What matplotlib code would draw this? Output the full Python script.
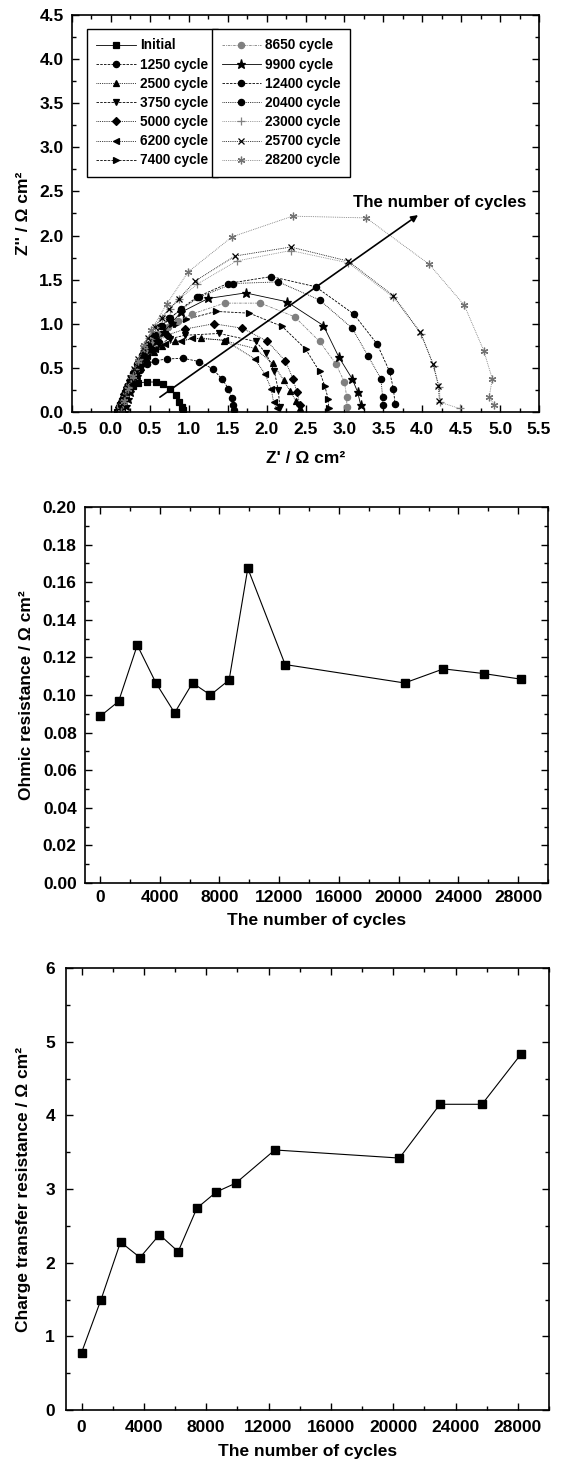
import matplotlib
matplotlib.use("Agg")
import matplotlib.pyplot as plt
from matplotlib.ticker import MultipleLocator, FormatStrFormatter

plt.rcParams['font.family'] = ['Liberation Sans', 'DejaVu Sans']
plt.rcParams['font.weight'] = 'bold'
plt.rcParams['axes.labelweight'] = 'bold'

# ---------------- Data ----------------
labels = ["Initial", "1250 cycle", "2500 cycle", "3750 cycle", "5000 cycle",
          "6200 cycle", "7400 cycle", "8650 cycle", "9900 cycle", "12400 cycle",
          "20400 cycle", "23000 cycle", "25700 cycle", "28200 cycle"]

zr_initial = [0.08, 0.10, 0.12, 0.14, 0.17, 0.20, 0.24, 0.29, 0.35, 0.46, 0.58, 0.67, 0.76, 0.83, 0.88, 0.91, 0.93]
zi_initial = [0.00, 0.04, 0.08, 0.12, 0.17, 0.21, 0.26, 0.30, 0.33, 0.34, 0.34, 0.32, 0.26, 0.19, 0.11, 0.06, 0.02]

zr_1250 = [0.09, 0.11, 0.13, 0.16, 0.19, 0.23, 0.27, 0.32, 0.38, 0.46, 0.56, 0.716, 0.924, 1.13, 1.308, 1.432, 1.51, 1.55, 1.57, 1.58]
zi_1250 = [0.00, 0.05, 0.10, 0.15, 0.21, 0.28, 0.35, 0.42, 0.48, 0.54, 0.58, 0.60, 0.61, 0.572, 0.489, 0.369, 0.263, 0.158, 0.075, 0.02]

zr_2500 = [0.12, 0.14, 0.17, 0.20, 0.24, 0.28, 0.33, 0.39, 0.46, 0.55, 0.66, 0.82, 1.16, 1.45, 1.85, 2.08, 2.22, 2.30, 2.38, 2.43]
zi_2500 = [0.00, 0.06, 0.12, 0.19, 0.26, 0.34, 0.42, 0.51, 0.60, 0.68, 0.75, 0.80, 0.84, 0.81, 0.72, 0.55, 0.36, 0.24, 0.12, 0.05]

zr_3750 = [0.10, 0.12, 0.15, 0.18, 0.22, 0.26, 0.31, 0.37, 0.44, 0.52, 0.62, 0.76, 0.95, 1.39, 1.86, 1.99, 2.10, 2.15, 2.17]
zi_3750 = [0.00, 0.06, 0.12, 0.19, 0.26, 0.34, 0.43, 0.52, 0.61, 0.70, 0.77, 0.83, 0.87, 0.89, 0.80, 0.67, 0.46, 0.25, 0.06]

zr_5000 = [0.09, 0.11, 0.14, 0.17, 0.21, 0.25, 0.30, 0.36, 0.43, 0.51, 0.60, 0.72, 0.95, 1.32, 1.69, 2.01, 2.24, 2.34, 2.39, 2.43]
zi_5000 = [0.00, 0.06, 0.13, 0.20, 0.28, 0.36, 0.45, 0.54, 0.63, 0.72, 0.80, 0.87, 0.94, 1.00, 0.95, 0.80, 0.58, 0.376, 0.226, 0.075]

zr_6200 = [0.10, 0.12, 0.15, 0.18, 0.22, 0.27, 0.32, 0.39, 0.47, 0.57, 0.70, 0.90, 1.04, 1.46, 1.85, 1.98, 2.06, 2.09, 2.13]
zi_6200 = [0.00, 0.06, 0.13, 0.20, 0.28, 0.37, 0.46, 0.55, 0.63, 0.71, 0.77, 0.80, 0.835, 0.816, 0.60, 0.43, 0.26, 0.11, 0.045]

zr_7400 = [0.10, 0.12, 0.15, 0.18, 0.22, 0.26, 0.31, 0.37, 0.44, 0.52, 0.61, 0.72, 0.84, 0.97, 1.35, 1.78, 2.20, 2.50, 2.68, 2.75, 2.79, 2.80]
zi_7400 = [0.00, 0.07, 0.14, 0.21, 0.29, 0.38, 0.47, 0.57, 0.67, 0.77, 0.86, 0.94, 1.00, 1.05, 1.14, 1.12, 0.97, 0.715, 0.46, 0.29, 0.15, 0.045]

zr_8650 = [0.10, 0.12, 0.15, 0.19, 0.23, 0.27, 0.32, 0.38, 0.45, 0.53, 0.62, 0.73, 0.86, 1.04, 1.46, 1.92, 2.36, 2.68, 2.89, 3.00, 3.03, 3.03]
zi_8650 = [0.00, 0.07, 0.14, 0.22, 0.30, 0.39, 0.49, 0.59, 0.69, 0.79, 0.88, 0.96, 1.03, 1.11, 1.234, 1.234, 1.08, 0.80, 0.546, 0.34, 0.17, 0.056]

zr_9900 = [0.17, 0.19, 0.22, 0.25, 0.29, 0.33, 0.38, 0.44, 0.51, 0.59, 0.68, 0.78, 0.90, 1.25, 1.73, 2.26, 2.73, 2.93, 3.10, 3.17, 3.21]
zi_9900 = [0.00, 0.07, 0.15, 0.23, 0.32, 0.41, 0.51, 0.61, 0.71, 0.81, 0.91, 1.01, 1.13, 1.287, 1.35, 1.25, 0.98, 0.62, 0.376, 0.226, 0.075]

zr_12400 = [0.12, 0.14, 0.17, 0.21, 0.25, 0.30, 0.35, 0.41, 0.48, 0.56, 0.65, 0.76, 0.90, 1.11, 1.50, 2.06, 2.63, 3.12, 3.42, 3.58, 3.63, 3.65]
zi_12400 = [0.00, 0.08, 0.16, 0.25, 0.34, 0.44, 0.54, 0.65, 0.76, 0.87, 0.97, 1.06, 1.17, 1.305, 1.456, 1.535, 1.42, 1.11, 0.77, 0.46, 0.26, 0.094]

zr_20400 = [0.11, 0.13, 0.16, 0.20, 0.24, 0.29, 0.34, 0.40, 0.47, 0.55, 0.64, 0.75, 0.90, 1.13, 1.57, 2.15, 2.68, 3.10, 3.30, 3.47, 3.49, 3.49]
zi_20400 = [0.00, 0.08, 0.16, 0.25, 0.34, 0.44, 0.54, 0.65, 0.76, 0.87, 0.97, 1.06, 1.16, 1.30, 1.456, 1.475, 1.27, 0.95, 0.64, 0.376, 0.17, 0.075]

zr_23000 = [0.13, 0.15, 0.18, 0.22, 0.26, 0.31, 0.36, 0.42, 0.49, 0.57, 0.66, 0.76, 0.88, 1.11, 1.617, 2.31, 3.05, 3.63, 3.99, 4.146, 4.22, 4.23, 4.48]
zi_23000 = [0.00, 0.09, 0.18, 0.28, 0.38, 0.49, 0.60, 0.72, 0.84, 0.96, 1.07, 1.17, 1.28, 1.45, 1.712, 1.83, 1.69, 1.30, 0.88, 0.527, 0.28, 0.11, 0.04]

zr_25700 = [0.12, 0.14, 0.17, 0.21, 0.25, 0.30, 0.35, 0.41, 0.48, 0.56, 0.65, 0.75, 0.87, 1.086, 1.594, 2.311, 3.05, 3.63, 3.975, 4.137, 4.207, 4.22]
zi_25700 = [0.00, 0.09, 0.18, 0.28, 0.38, 0.49, 0.60, 0.72, 0.84, 0.96, 1.07, 1.17, 1.28, 1.486, 1.768, 1.87, 1.71, 1.317, 0.903, 0.546, 0.30, 0.13]

zr_28200 = [0.13, 0.17, 0.22, 0.28, 0.35, 0.43, 0.52, 0.716, 0.993, 1.557, 2.334, 3.28, 4.09, 4.54, 4.79, 4.90, 4.86, 4.92]
zi_28200 = [0.00, 0.12, 0.26, 0.41, 0.58, 0.76, 0.93, 1.223, 1.588, 1.986, 2.22, 2.20, 1.674, 1.211, 0.696, 0.376, 0.169, 0.083]

cycles = [0, 1250, 2500, 3750, 5000, 6200, 7400, 8650, 9900, 12400, 20400, 23000, 25700, 28200]
ohmic = [0.0886, 0.0966, 0.1265, 0.1064, 0.0905, 0.1064, 0.1000, 0.1080, 0.1674, 0.1162, 0.1064, 0.1139, 0.1114, 0.1084]
charge_transfer = [0.78, 1.50, 2.28, 2.07, 2.38, 2.15, 2.74, 2.96, 3.08, 3.53, 3.42, 4.15, 4.15, 4.83]

# ---------------- Styles ----------------
DASH = (0, (3, 1.5))
DOT = (0, (1, 1.2))
DASHDOT = (0, (3, 1.2, 1, 1.2))
series = [
    (zr_initial, zi_initial, 's', '-', 'k'),
    (zr_1250, zi_1250, 'o', DASH, 'k'),
    (zr_2500, zi_2500, '^', DOT, 'k'),
    (zr_3750, zi_3750, 'v', DASH, 'k'),
    (zr_5000, zi_5000, 'D', DOT, 'k'),
    (zr_6200, zi_6200, '<', DOT, 'k'),
    (zr_7400, zi_7400, '>', DASH, 'k'),
    (zr_8650, zi_8650, 'o', DASHDOT, '0.5'),
    (zr_9900, zi_9900, '*', '-', 'k'),
    (zr_12400, zi_12400, 'o', DASH, 'k'),
    (zr_20400, zi_20400, 'o', DOT, 'k'),
    (zr_23000, zi_23000, '+', DOT, '0.5'),
    (zr_25700, zi_25700, 'x', DOT, 'k'),
    (zr_28200, zi_28200, (6, 2, 0), DOT, '0.45'),
]
msizes = {'s': 4.2, 'o': 4.5, '^': 4.8, 'v': 4.8, 'D': 3.8, '<': 4.8, '>': 4.8, '*': 6.5, '+': 6, 'x': 5}

fig = plt.figure(figsize=(5.61, 14.7), dpi=100)

TICK_FS = 12.5
LABEL_FS = 12.5


def style_axes(ax, xpad=6, ypad=6):
    ax.tick_params(which='both', direction='in', top=True, right=True, width=1.0,
                   labelsize=TICK_FS)
    ax.tick_params(which='major', length=5)
    ax.tick_params(which='minor', length=3)
    ax.tick_params(axis='x', which='major', pad=xpad)
    ax.tick_params(axis='y', which='major', pad=ypad)
    for sp in ax.spines.values():
        sp.set_linewidth(1.2)
    for lab in ax.get_xticklabels() + ax.get_yticklabels():
        lab.set_fontweight('bold')


# ---------------- Top: Nyquist ----------------
ax1 = fig.add_axes([72 / 561, 1 - 412 / 1470, (539 - 72) / 561, (412 - 15) / 1470])
handles = []
for (zr, zi, mk, ls, col), lab in zip(series, labels):
    ms = msizes.get(mk, 5.5)
    h, = ax1.plot(zr, zi, linestyle=ls, color=col, lw=0.6, marker=mk, markersize=ms,
                  markerfacecolor=col, markeredgecolor=col, markeredgewidth=0.9, label=lab)
    handles.append(h)

ax1.set_xlim(-0.5, 5.5)
ax1.set_ylim(0, 4.5)
ax1.xaxis.set_major_locator(MultipleLocator(0.5))
ax1.xaxis.set_minor_locator(MultipleLocator(0.25))
ax1.yaxis.set_major_locator(MultipleLocator(0.5))
ax1.yaxis.set_minor_locator(MultipleLocator(0.25))
ax1.xaxis.set_major_formatter(FormatStrFormatter('%.1f'))
ax1.yaxis.set_major_formatter(FormatStrFormatter('%.1f'))
ax1.set_xlabel("Z' / Ω cm²", fontsize=LABEL_FS, fontweight='bold', labelpad=10)
ax1.set_ylabel("Z'' / Ω cm²", fontsize=LABEL_FS, fontweight='bold', labelpad=6)
style_axes(ax1, xpad=7, ypad=6)

leg_kw = dict(loc='upper left', frameon=True, fancybox=False, edgecolor='k',
              framealpha=1, borderaxespad=0, handlelength=2.9, handletextpad=0.3,
              labelspacing=0.38, borderpad=0.7, prop={'weight': 'bold', 'size': 9.8})
leg1 = ax1.legend(handles=handles[:7], bbox_to_anchor=(0.032, 0.965), **leg_kw)
leg1.get_frame().set_linewidth(1.0)
ax1.add_artist(leg1)
leg2 = ax1.legend(handles=handles[7:], bbox_to_anchor=(0.30, 0.965), **leg_kw)
leg2.get_frame().set_linewidth(1.0)

ax1.annotate('', xy=(3.975, 2.25), xytext=(0.60, 0.15),
             arrowprops=dict(arrowstyle='-|>', color='k', lw=1.2, mutation_scale=10))
ax1.text(4.22, 2.37, 'The number of cycles', ha='center', va='center',
         fontsize=12.2, fontweight='bold')

# ---------------- Middle: Ohmic resistance ----------------
ax2 = fig.add_axes([85 / 561, 1 - 883 / 1470, (548 - 85) / 561, (883 - 507) / 1470])
ax2.plot(cycles, ohmic, '-', color='k', lw=0.8, marker='s', markersize=6,
         markerfacecolor='k', markeredgecolor='k')
ax2.set_xlim(-1000, 30000)
ax2.set_ylim(0, 0.20)
ax2.xaxis.set_major_locator(MultipleLocator(4000))
ax2.xaxis.set_minor_locator(MultipleLocator(2000))
ax2.yaxis.set_major_locator(MultipleLocator(0.02))
ax2.yaxis.set_minor_locator(MultipleLocator(0.01))
ax2.yaxis.set_major_formatter(FormatStrFormatter('%.2f'))
ax2.set_xlabel('The number of cycles', fontsize=LABEL_FS, fontweight='bold', labelpad=6)
ax2.set_ylabel('Ohmic resistance / Ω cm²', fontsize=LABEL_FS, fontweight='bold', labelpad=6)
style_axes(ax2, xpad=5, ypad=6)

# ---------------- Bottom: Charge transfer resistance ----------------
ax3 = fig.add_axes([66 / 561, 1 - 1410 / 1470, (549 - 66) / 561, (1410 - 968) / 1470])
ax3.plot(cycles, charge_transfer, '-', color='k', lw=0.8, marker='s', markersize=6,
         markerfacecolor='k', markeredgecolor='k')
ax3.set_xlim(-1000, 30000)
ax3.set_ylim(0, 6)
ax3.xaxis.set_major_locator(MultipleLocator(4000))
ax3.xaxis.set_minor_locator(MultipleLocator(2000))
ax3.yaxis.set_major_locator(MultipleLocator(1))
ax3.yaxis.set_minor_locator(MultipleLocator(0.5))
ax3.set_xlabel('The number of cycles', fontsize=LABEL_FS, fontweight='bold', labelpad=7)
ax3.set_ylabel('Charge transfer resistance / Ω cm²', fontsize=LABEL_FS, fontweight='bold', labelpad=10)
style_axes(ax3, xpad=7, ypad=8)

fig.savefig('out.png', dpi=100)
